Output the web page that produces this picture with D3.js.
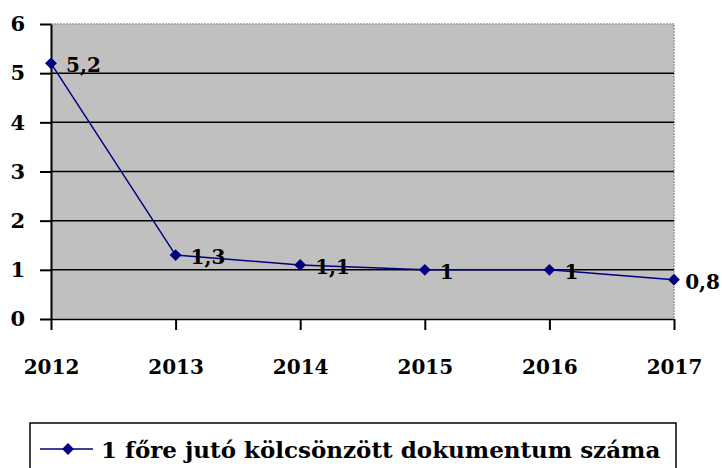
<!DOCTYPE html>
<html>
<head>
<meta charset="utf-8">
<script src="https://cdn.jsdelivr.net/npm/d3@7"></script>
<style>
  body { margin: 0; background: #fff; }
  svg { display: block; }
</style>
</head>
<body>
<svg width="722" height="468"></svg>
<script>
// adatok
var years = ["2012", "2013", "2014", "2015", "2016", "2017"];
var values = [5.2, 1.3, 1.1, 1, 1, 0.8];
var valueLabels = ["5,2", "1,3", "1,1", "1", "1", "0,8"];
var yTicks = [0, 1, 2, 3, 4, 5, 6];
var seriesName = "1 főre jutó kölcsönzött dokumentum száma";

var font = "'DejaVu Serif', 'Liberation Serif', serif";
var navy = "#000080";

var svg = d3.select("svg");
var W = +svg.attr("width");
var pLeft = 51, pRight = 674, pTop = 24, pBottom = 319;

var x = d3.scalePoint().domain(years).range([pLeft, pRight]);
var y = d3.scaleLinear().domain([0, 6]).range([pBottom, pTop]);

// plot háttér
svg.append("rect")
   .attr("x", pLeft).attr("y", pTop)
   .attr("width", pRight - pLeft).attr("height", pBottom - pTop)
   .attr("fill", "#c0c0c0");

// szaggatott keret felül és jobbra
svg.append("path")
   .attr("d", "M" + pLeft + "," + pTop + "H" + pRight + "V" + pBottom)
   .attr("fill", "none")
   .attr("stroke", "#9a9a9a")
   .attr("stroke-width", 1.5)
   .attr("stroke-dasharray", "2,1");

// rácsvonalak
svg.append("g")
   .selectAll("line")
   .data(yTicks.filter(function (d) { return d > 0 && d < 6; }))
   .enter()
   .append("line")
   .attr("x1", pLeft).attr("x2", pRight)
   .attr("y1", function (d) { return y(d); })
   .attr("y2", function (d) { return y(d); })
   .attr("stroke", "#000")
   .attr("stroke-width", 1.5);

// y tengely
var gy = svg.append("g")
   .attr("transform", "translate(" + pLeft + ",0)")
   .call(d3.axisLeft(y).tickValues(yTicks).tickFormat(d3.format("d"))
           .tickSize(11).tickPadding(15).tickSizeOuter(0));
gy.select(".domain").attr("stroke", "#000").attr("stroke-width", 2);
gy.selectAll(".tick line").attr("stroke", "#000").attr("stroke-width", 2);
gy.selectAll("text")
  .attr("font-family", font)
  .attr("font-size", "21px")
  .attr("font-weight", "bold")
  .attr("fill", "#000");

// x tengely
var gx = svg.append("g")
   .attr("transform", "translate(0," + pBottom + ")")
   .call(d3.axisBottom(x).tickSize(11).tickPadding(30).tickSizeOuter(0));
gx.select(".domain").attr("stroke", "#000").attr("stroke-width", 1.5);
gx.selectAll(".tick line").attr("stroke", "#000").attr("stroke-width", 2);
gx.selectAll("text")
  .attr("font-family", font)
  .attr("font-size", "20px")
  .attr("font-weight", "bold")
  .attr("fill", "#000");

// vonal
var line = d3.line()
   .x(function (d, i) { return x(years[i]); })
   .y(function (d) { return y(d); });

svg.append("path")
   .datum(values)
   .attr("d", line)
   .attr("fill", "none")
   .attr("stroke", navy)
   .attr("stroke-width", 1.5);

var diamond = d3.symbol().type(d3.symbolDiamond2).size(90);

svg.append("g")
   .selectAll("path")
   .data(values)
   .enter()
   .append("path")
   .attr("d", diamond)
   .attr("transform", function (d, i) {
     return "translate(" + x(years[i]) + "," + y(d) + ")";
   })
   .attr("fill", navy);

// adatfeliratok (a képen belül maradjanak)
svg.append("g")
   .selectAll("text")
   .data(values)
   .enter()
   .append("text")
   .attr("x", function (d, i) { return x(years[i]) + 15; })
   .attr("y", function (d) { return y(d) + 9; })
   .attr("font-family", font)
   .attr("font-size", "20px")
   .attr("font-weight", "bold")
   .attr("fill", "#000")
   .text(function (d, i) { return valueLabels[i]; })
   .each(function () {
     var t = d3.select(this);
     var w = this.getComputedTextLength();
     if (+t.attr("x") + w > W - 2) t.attr("x", W - 2 - w);
   });

// jelmagyarázat
var lg = svg.append("g");
lg.append("rect")
  .attr("x", 30).attr("y", 423)
  .attr("width", 646).attr("height", 60)
  .attr("fill", "#fff")
  .attr("stroke", "#000")
  .attr("stroke-width", 1.5);
lg.append("line")
  .attr("x1", 40).attr("x2", 93)
  .attr("y1", 449).attr("y2", 449)
  .attr("stroke", navy).attr("stroke-width", 1.5);
lg.append("path")
  .attr("d", diamond)
  .attr("transform", "translate(68,449)")
  .attr("fill", navy);
lg.append("text")
  .attr("x", 101).attr("y", 458)
  .attr("font-family", font)
  .attr("font-size", "23px")
  .attr("font-weight", "bold")
  .attr("fill", "#000")
  .text(seriesName);
</script>
</body>
</html>
